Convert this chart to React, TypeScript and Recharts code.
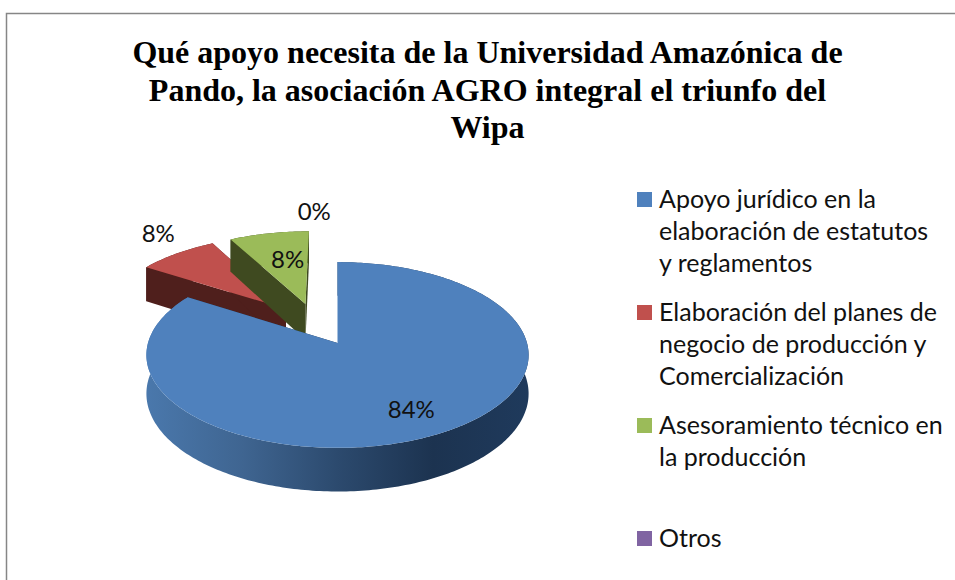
import { PieChart, Pie, Legend } from 'recharts'

const categories = [
  'Apoyo jurídico en la\nelaboración de estatutos\ny reglamentos',
  'Elaboración del planes de\nnegocio de producción y\nComercialización',
  'Asesoramiento técnico en\nla producción',
  'Otros',
]
const values = [84, 8, 8, 0]
const colors = ['#4f81bd', '#c0504d', '#9bbb59', '#8064a2']
const sideColors = ['url(#blueSide)', '#4f1f1c', '#3f4a20', '#4d3c62']
const labelRadius = [0.75, 1.22, 0.6, 1.3]
const labelNudgeX = [-1, 3, 5, -5]
const labelNudgeY = [0, -10, -1, -2]
const titleLines = [
  'Qué apoyo necesita de la Universidad Amazónica de',
  'Pando, la asociación AGRO integral el triunfo del',
  'Wipa',
]

const data = categories.map((name, i) => ({ name, value: values[i], fill: colors[i] }))

// perspective + explosion of the 3D pie
const TILT = 0.482
const PERSP = 0.129
const EXPLODE = 0.245
const DEPTH = 38
const BLUE_MID = 90 - (90 + (90 - 302.4)) / 2

const rad = (d: number) => (d * Math.PI) / 180

// u goes to the back of the pie, v to the right, in units of the radius
function project(cx: number, cy: number, R: number, u: number, v: number) {
  const w = 1 + PERSP * u
  return { x: cx + (R * v) / w, y: cy - (R * TILT * u) / w, w }
}

function sliceOffset(mid: number) {
  return {
    u: EXPLODE * (Math.cos(rad(mid)) - Math.cos(rad(BLUE_MID))),
    v: EXPLODE * (Math.sin(rad(mid)) - Math.sin(rad(BLUE_MID))),
  }
}

function toPath(pts: { x: number; y: number }[]) {
  return 'M' + pts.map(p => `${p.x.toFixed(2)},${p.y.toFixed(2)}`).join('L') + 'Z'
}

function Slice3D(props: any) {
  const { cx, cy, outerRadius: R, startAngle, endAngle, index, fill } = props
  const from = 90 - startAngle
  const to = 90 - endAngle
  if (to - from < 0.01) return null
  const off = sliceOffset((from + to) / 2)
  const at = (r: number, th: number) =>
    project(cx, cy, R, off.u + r * Math.cos(rad(th)), off.v + r * Math.sin(rad(th)))
  const down = (p: { x: number; y: number; w: number }) => ({ x: p.x, y: p.y + DEPTH / p.w, w: p.w })

  const arc = []
  const steps = Math.ceil(to - from)
  for (let i = 0; i <= steps; i++) arc.push(at(1, from + ((to - from) * i) / steps))
  const apex = at(0, 0)
  const side = sideColors[index]
  return (
    <g>
      <path d={toPath([...arc, ...arc.map(down).reverse()])} fill={side} />
      <path d={toPath([apex, arc[0], down(arc[0]), down(apex)])} fill={index === 0 ? '#1d3550' : side} />
      <path d={toPath([apex, arc[arc.length - 1], down(arc[arc.length - 1]), down(apex)])} fill={index === 0 ? '#1d3550' : side} />
      <path d={toPath([apex, ...arc])} fill={fill} />
    </g>
  )
}

const backShape = (props: any) => (props.index === 0 ? <g /> : <Slice3D {...props} />)
const frontShape = (props: any) => (props.index === 0 ? <Slice3D {...props} /> : <g />)

function renderLabel(props: any) {
  const { cx, cy, outerRadius: R, midAngle, index, value } = props
  const mid = 90 - midAngle
  const off = sliceOffset(mid)
  const r = labelRadius[index]
  const p = project(cx, cy, R, off.u + r * Math.cos(rad(mid)), off.v + r * Math.sin(rad(mid)))
  return (
    <text x={p.x + labelNudgeX[index]} y={p.y + labelNudgeY[index]} textAnchor="middle" dominantBaseline="central"
      fontFamily="Lato" fontSize={24} fill="#111">
      {value}%
    </text>
  )
}

function LegendBox() {
  return (
    <div style={{ fontFamily: 'Lato', fontSize: 25, lineHeight: '32px', color: '#111' }}>
      {categories.map((c, i) => (
        <div key={i} style={{ position: 'relative', height: 113, paddingLeft: 22, whiteSpace: 'pre-line' }}>
          <span style={{ position: 'absolute', left: 0, top: 10.5, width: 15, height: 15, background: colors[i] }} />
          {c}
        </div>
      ))}
    </div>
  )
}

export default function App() {
  return (
    <div style={{ position: 'absolute', left: 0, top: 0, width: 955, height: 580, background: '#fff', overflow: 'hidden' }}>
      <PieChart width={955} height={580} margin={{ top: 0, right: 0, bottom: 0, left: 0 }}>
        <defs>
          <linearGradient id="blueSide" x1="0" y1="0" x2="1" y2="0">
            <stop offset="0" stopColor="#4a78ac" />
            <stop offset="0.25" stopColor="#3f6591" />
            <stop offset="0.5" stopColor="#2c4a6e" />
            <stop offset="0.75" stopColor="#1c3350" />
            <stop offset="1" stopColor="#1f3a5c" />
          </linearGradient>
        </defs>
        <rect x={6.5} y={13.5} width={1000} height={700} fill="none" stroke="#868686" strokeWidth={1.5} />
        {titleLines.map((t, i) => (
          <text key={i} x={487.5} y={63 + i * 37.5} textAnchor="middle"
            fontFamily="Liberation Serif" fontWeight="bold" fontSize={32} fill="#000">
            {t}
          </text>
        ))}
        <Pie data={data} dataKey="value" nameKey="name" cx={337.5} cy={343} outerRadius={189.5}
          startAngle={90} endAngle={-270} stroke="none" label={false} labelLine={false}
          shape={backShape} isAnimationActive={false} />
        <Pie data={data} dataKey="value" nameKey="name" cx={337.5} cy={343} outerRadius={189.5}
          startAngle={90} endAngle={-270} stroke="none" label={renderLabel} labelLine={false}
          shape={frontShape} isAnimationActive={false} />
        <Legend content={<LegendBox />} wrapperStyle={{ position: 'absolute', left: 637, top: 181.5, width: 318, bottom: 'auto' }} />
      </PieChart>
    </div>
  )
}
